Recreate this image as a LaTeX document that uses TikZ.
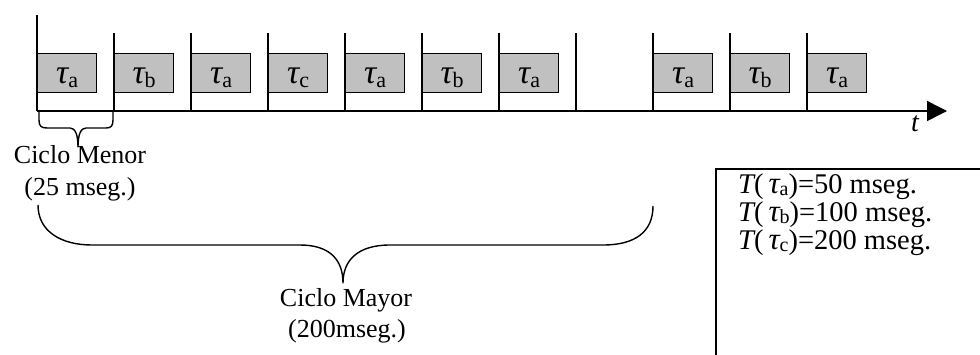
\documentclass[tikz,border=0pt]{standalone}
\usepackage{fontspec}
\setmainfont{Liberation Serif}
\usetikzlibrary{arrows.meta}
\definecolor{taskgray}{HTML}{C0C0C0}
\newcommand{\tausub}[4]{{\fontsize{#4}{#4}\selectfont\itshape τ}\raisebox{-#3}{\fontsize{#2}{#2}\selectfont #1}}
\begin{document}
\begin{tikzpicture}[x=1pt,y=-1pt,
  tickline/.style={line width=1.5pt},
  axisline/.style={line width=1.5pt,-{Triangle[length=20pt,width=20pt]}},
  taskbox/.style={draw=black,line width=1.2pt,fill=taskgray,minimum width=59pt,
    minimum height=39pt,inner sep=0pt,anchor=north west,text height=21pt,text depth=0pt,
    font=\fontsize{26}{30}\selectfont},
  bracepath/.style={line width=1.4pt,line join=round},
  lbl/.style={anchor=base,font=\fontsize{26}{30}\selectfont},
  legtext/.style={anchor=base west,font=\fontsize{28.5}{28}\selectfont,inner sep=0pt,
    text height=19pt,text depth=3pt},
  legbox/.style={line width=1.3pt}]
\useasboundingbox (0,0) rectangle (980,354);
% ticks
\coordinate (top0) at (37,15);
\coordinate (bot0) at (37,111);
\foreach \i in {1,...,10} {
  \coordinate (top\i) at ({37+77*\i},33);
  \coordinate (bot\i) at ({37+77*\i},111);
}
\foreach \i in {0,...,10} { \draw[tickline] (top\i) -- (bot\i); }
% task boxes
\foreach \i/\l in {0/a,1/b,2/a,3/c,4/a,5/b,6/a,8/a,9/b,10/a} {
  \node[taskbox] (k\i) at ({37+77*\i},53) {\tausub{\l}{22pt}{4pt}{34pt}};
}
% time axis
\coordinate (tend) at (947,111);
\draw[axisline] (bot0) -- (tend);
\node[lbl,font=\fontsize{28}{30}\selectfont\itshape] (tlab) at (915,131) {t};
% minor cycle brace
\draw[bracepath] (39,111) -- (39,120) .. controls (39,126) and (41,128) .. (47,128)
  -- (70,128) .. controls (75,128) and (78,134) .. (78,147)
  .. controls (78,134) and (81,128) .. (86,128) -- (106,128)
  .. controls (111,128) and (113,126) .. (113,120) -- (113,111);
\node[lbl] (menor1) at (80,163) {Ciclo Menor};
\node[lbl] (menor2) at (80,195) {(25 mseg.)};
% major cycle brace
\draw[bracepath] (38,205) .. controls (38,232) and (62,245) .. (92,245) -- (300,245)
  .. controls (330,245) and (343,260) .. (343,283)
  .. controls (343,260) and (358,245) .. (390,245) -- (603,245)
  .. controls (635,245) and (653,232) .. (653,206);
\node[lbl] (mayor1) at (346,306) {Ciclo Mayor};
\node[lbl] (mayor2) at (347,337) {(200mseg.)};
% legend
\draw[legbox] (982,169) -- (716,169) -- (716,356);
\node[legtext] (l1) at (738,193) {{\itshape T}(\hspace{5pt}\tausub{a}{20pt}{2pt}{31pt})=50 mseg.};
\node[legtext] (l2) at (738,221) {{\itshape T}(\hspace{5pt}\tausub{b}{20pt}{2pt}{31pt})=100 mseg.};
\node[legtext] (l3) at (738,249) {{\itshape T}(\hspace{5pt}\tausub{c}{20pt}{2pt}{31pt})=200 mseg.};
\end{tikzpicture}
\end{document}
